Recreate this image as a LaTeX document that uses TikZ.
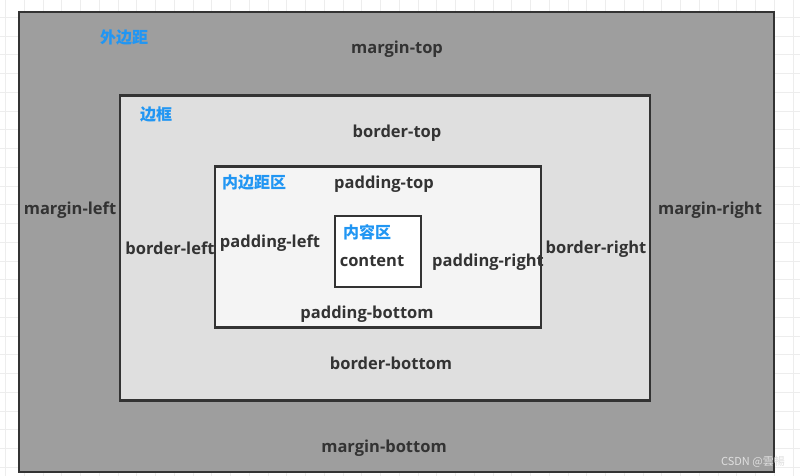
\documentclass[tikz,border=0pt]{standalone}
\usepackage{fontspec}
\setmainfont{Open Sans}
\newfontfamily\cjk{Noto Sans CJK SC}
\definecolor{edge}{HTML}{333333}
\definecolor{marginc}{HTML}{9E9E9E}
\definecolor{borderc}{HTML}{DFDFDF}
\definecolor{paddingc}{HTML}{F4F4F4}
\definecolor{labelc}{HTML}{333333}
\definecolor{bluec}{HTML}{2196F3}
\definecolor{gridc}{HTML}{EDEDED}
\tikzset{
  box/.style={draw=edge, line width=2.5pt, rectangle, anchor=north west, inner sep=0pt, outer sep=0pt},
  lbl/.style={anchor=base, inner sep=0pt, text=labelc, font=\fontsize{16.5}{18}\selectfont\bfseries},
  cn/.style={anchor=base west, inner sep=0pt, text=bluec, font=\cjk\fontsize{16}{18}\selectfont\bfseries},
}
\begin{document}
\begin{tikzpicture}[x=1pt,y=-1pt]
\useasboundingbox (0,0) rectangle (800,476);
\fill[white] (0,0) rectangle (800,476);
% grid
\foreach \i in {0,...,42} {
  \draw[gridc, line width=0.8pt] ({5.5+18.75*\i},0) -- ({5.5+18.75*\i},476);
}
\foreach \j in {1,...,26} {
  \draw[gridc, line width=0.8pt] (0,{-1.5+18.75*\j}) -- (800,{-1.5+18.75*\j});
}
% boxes
\node[box, fill=marginc, minimum width=755pt, minimum height=460pt] (margin) at (19,12) {};
\node[box, fill=borderc, minimum width=530pt, minimum height=305pt] (border) at (120,95.5) {};
\node[box, fill=paddingc, minimum width=326pt, minimum height=161pt] (padding) at (215,166.5) {};
\node[box, fill=white, minimum width=86pt, minimum height=71pt] (content) at (335,216) {};
% chinese labels
\node[cn] (lmargin) at (100,44) {外边距};
\node[cn] (lborder) at (140,121) {边框};
\node[cn] (lpadding) at (222,188) {内边距区};
\node[cn] (lcontent) at (343,238) {内容区};
% labels
\node[lbl] (mt) at (397,54) {margin-top};
\node[lbl] (bt) at (397,137) {border-top};
\node[lbl] (pt) at (384,188) {padding-top};
\node[lbl] (ml) at (70,214) {margin-left};
\node[lbl] (mr) at (710,214) {margin-right};
\node[lbl] (bl) at (170,254) {border-left};
\node[lbl] (br) at (596,253) {border-right};
\node[lbl] (pl) at (270,247) {padding-left};
\node[lbl] (pr) at (488,266) {padding-right};
\node[lbl] (ct) at (372,266) {content};
\node[lbl] (pb) at (367,318) {padding-bottom};
\node[lbl] (bb) at (391,369) {border-bottom};
\node[lbl] (mb) at (384,452) {margin-bottom};
% watermark
\node[anchor=base east, inner sep=0pt, text=white!88!black, font=\cjk\fontsize{11}{12}\selectfont] (wm) at (785,465) {CSDN @雲暢};
\end{tikzpicture}
\end{document}
